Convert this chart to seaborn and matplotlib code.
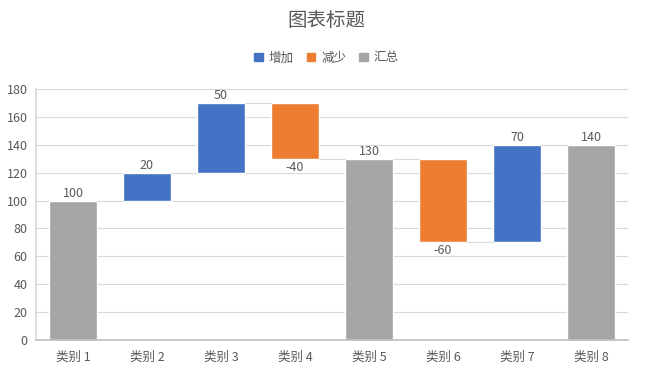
import pandas as pd
import seaborn as sns
import matplotlib.pyplot as plt

categories = ['类别 1', '类别 2', '类别 3', '类别 4', '类别 5', '类别 6', '类别 7', '类别 8']
changes = [100, 20, 50, -40, 130, -60, 70, 140]
kinds = ['汇总', '增加', '增加', '减少', '汇总', '减少', '增加', '汇总']
legend_order = ['增加', '减少', '汇总']
colors = {'增加': '#4472C4', '减少': '#ED7D31', '汇总': '#A5A5A5'}

# work out floating bar bottoms / tops
bases, heights, ends = [], [], []
level = 0
for v, k in zip(changes, kinds):
    if k == '汇总':
        bases.append(0)
        heights.append(v)
        level = v
    elif v >= 0:
        bases.append(level)
        heights.append(v)
        level += v
    else:
        bases.append(level + v)
        heights.append(-v)
        level += v
    ends.append(level)

df = pd.DataFrame({'cat': categories, 'kind': kinds, 'base': bases,
                   'height': heights, 'change': changes})

sns.set_theme(style='white')
plt.rcParams['font.family'] = ['Noto Sans CJK SC', 'DejaVu Sans']
txt = '#595959'

fig = plt.figure(figsize=(6.53, 3.79), dpi=100)
ax = fig.add_axes([0.055, 0.103, 0.907, 0.662])

sns.barplot(data=df, x='cat', y='height', hue='kind', hue_order=legend_order,
            palette=colors, saturation=1, dodge=False, width=0.65,
            order=categories, ax=ax, legend=False)

# lift each bar onto its base
for p in ax.patches:
    i = int(round(p.get_x() + p.get_width() / 2))
    if p.get_height() > 0:
        p.set_y(bases[i])

half = 0.325
for i, row in df.iterrows():
    top = row['base'] + row['height']
    if row['kind'] == '减少':
        ax.text(i, row['base'] - 1.5, str(row['change']), ha='center', va='top',
                fontsize=9, color=txt)
    else:
        ax.text(i, top + 0.5, str(row['change']), ha='center', va='bottom',
                fontsize=9, color=txt)
    if i < len(df) - 1:
        ax.plot([i + half, i + 1 - half], [ends[i], ends[i]], color='#d9d9d9',
                lw=0.8, zorder=1)

ax.set_xlim(-0.5, 7.5)
ax.set_ylim(0, 180)
ax.set_yticks(range(0, 181, 20))
ax.yaxis.grid(True, color='#d9d9d9', lw=0.8)
ax.set_axisbelow(True)
ax.set_xlabel('')
ax.set_ylabel('')
ax.tick_params(axis='both', labelsize=9, colors=txt, length=0)
ax.tick_params(axis='x', pad=8)
ax.tick_params(axis='y', pad=6)
for s in ['top', 'right']:
    ax.spines[s].set_visible(False)
ax.spines['left'].set_color('#d9d9d9')
ax.spines['bottom'].set_color('#bfbfbf')

handles = [plt.Rectangle((0, 0), 1, 1, color=colors[k]) for k in legend_order]
fig.legend(handles, legend_order, loc='center', bbox_to_anchor=(0.5, 0.847),
           ncol=3, frameon=False, fontsize=9, handlelength=0.7, handleheight=0.7,
           columnspacing=1.0, handletextpad=0.5, labelcolor=txt)
fig.text(0.5, 0.947, '图表标题', ha='center', va='center', fontsize=14, color=txt)

fig.savefig('out.png', dpi=100)
